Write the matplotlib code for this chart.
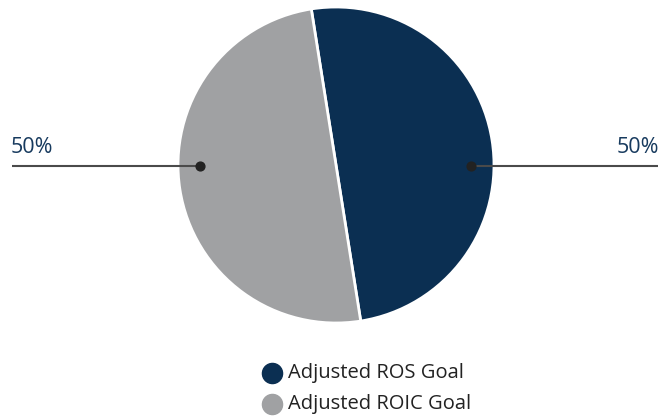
import matplotlib.pyplot as plt

# data
labels = ['Adjusted ROS Goal', 'Adjusted ROIC Goal']
values = [50, 50]
colors = ['#0b2f52', '#a0a1a3']

plt.rcParams['font.family'] = ['Open Sans', 'DejaVu Sans']

fig = plt.figure(figsize=(6.58, 4.18), dpi=100)
ax = fig.add_axes([0, 0, 1, 1])

cx, cy, r = 336, 253, 158
wedges, _ = ax.pie(values, colors=colors, startangle=99, counterclock=False,
                   center=(cx, cy), radius=r, frame=True,
                   wedgeprops=dict(edgecolor='white', linewidth=2))

ax.set_xlim(0, 658)
ax.set_ylim(0, 418)
ax.set_aspect('equal')
ax.axis('off')

# leader lines with value labels
ly = 252
ax.plot([12, 200], [ly, ly], color='#4a4a4a', lw=1.5, solid_capstyle='butt')
ax.plot([471, 658], [ly, ly], color='#4a4a4a', lw=1.5, solid_capstyle='butt')
ax.scatter([200, 471], [ly, ly], s=40, color='#222222', zorder=5)
ax.text(11, ly + 8, '{}%'.format(values[1]), fontsize=15.5, color='#173a5e',
        ha='left', va='bottom')
ax.text(659, ly + 8, '{}%'.format(values[0]), fontsize=15.5, color='#173a5e',
        ha='right', va='bottom')

# legend
for i, (lab, col) in enumerate(zip(labels, colors)):
    y = 45 - i * 31
    ax.scatter([272], [y], s=210, color=col, zorder=5)
    ax.text(288, y, lab, fontsize=14.5, color='#222222', ha='left', va='center')

fig.savefig('out.png', dpi=100)
